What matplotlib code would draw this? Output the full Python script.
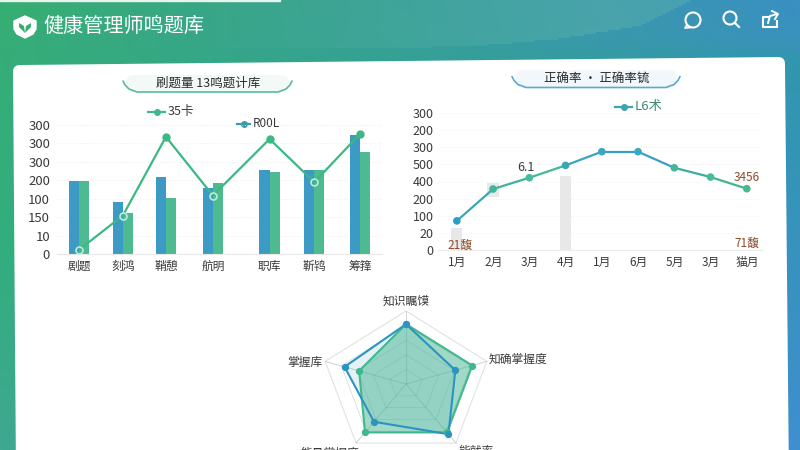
# -*- coding: utf-8 -*-
import numpy as np
import matplotlib
matplotlib.use("Agg")
import matplotlib.pyplot as plt
from matplotlib.colors import to_rgb
from matplotlib.patches import Circle, FancyBboxPatch, Polygon

plt.rcParams["font.family"] = ["Noto Sans CJK SC", "DejaVu Sans"]

# left chart
bar_cats = ["剧题", "刻鸿", "鞘憩", "航明", "职库", "靳鸨", "筹箨"]
bar_ticks = ["0", "10", "150", "100", "200", "300", "300", "300"]
blue_bars = [199, 142, 208, 180, 228, 229, 323]
green_bars = [199, 113, 152, 192, 223, 229, 277]
bar_line = [12, 105, 318, 159, 312, 195, 326]

# right chart
months = ["1月", "2月", "3月", "4月", "1月", "6月", "5月", "3月", "猫月"]
rate_ticks = ["0", "20", "100", "200", "400", "500", "300", "200", "300"]
rate_line = [85, 178, 211, 247, 287, 287, 240, 213, 179]
gray_low = [0, 156, 0]
gray_high = [63, 197, 215]
gray_month = [0, 1, 3]

# radar
radar_axes = ["知识瞩馍", "知确掌握度", "能就率", "能量掌握度", "掌握库"]
radar_green = [82, 82, 82, 82, 58]
radar_blue = [82, 61, 85, 64, 76]

W, H = 800, 450
GREEN = "#3bb884"
TEXT = "#3a3a3a"

fig = plt.figure(figsize=(8, 4.5), dpi=100)
bg = fig.add_axes([0, 0, 1, 1])
bg.set_xlim(0, W)
bg.set_ylim(H, 0)
bg.axis("off")


def box(x0, y0, x1, y1):
    return [x0 / W, 1 - y1 / H, (x1 - x0) / W, (y1 - y0) / H]


# page background, left and right edge colours blended across
rows = np.linspace(0, H, 225)
cols = np.linspace(0, W, 400)
left_edge = np.array([np.interp(rows, [0, 50, 250, 450], c) for c in zip(
    to_rgb("#37ae70"), to_rgb("#36ad78"), to_rgb("#32ae7e"), to_rgb("#3fa890"))]).T
right_edge = np.array([np.interp(rows, [0, 40, 60, 450], c) for c in zip(
    to_rgb("#3a90c2"), to_rgb("#3a92bc"), to_rgb("#3296ae"), to_rgb("#3e8fd0"))]).T
t = (cols / W)[None, :, None]
grad = left_edge[:, None, :] * (1 - t) + right_edge[:, None, :] * t

# header wave, fades in towards the right
curve = np.interp(cols, [0, 400, 480, 560, 640, 690, 691], [47, 47, 45, 38, 25, 0, -1])
mask = (rows[:, None] < curve[None, :]) * np.clip((cols[None, :] - 200) / 400, 0, 1) * 0.28
grad = grad * (1 - mask[..., None]) + np.array(to_rgb("#6fc2a5")) * mask[..., None]
bg.imshow(grad, extent=[0, W, H, 0], aspect="auto", zorder=0)
bg.fill_between([0, 280], 0, 1, color="#e8f5ef", zorder=1)

# card, it leans a little in the reference
card = [(19, 71), (779, 63), (783, 480), (22, 480)]
bg.add_patch(Polygon(card, closed=True, fc="white", ec="white", lw=8.6, joinstyle="round", zorder=2))

# shield logo
sx = [14, 25, 36, 36, 33, 25, 17, 14]
sy = [21, 16, 21, 29, 34, 38, 34, 29]
bg.add_patch(Polygon(np.c_[sx, sy], closed=True, fc="white", ec="white", lw=1, joinstyle="round", zorder=3))
bg.add_patch(Polygon([(25, 33), (19, 27), (19, 23), (24, 26)], closed=True, fc="#37ad72", zorder=4))
bg.add_patch(Polygon([(25, 33), (31, 27), (31, 23), (26, 26)], closed=True, fc="#37ad72", zorder=4))
bg.text(43, 26, "健康管理师鸣题库", color="white", fontsize=14.5, va="center", ha="left", zorder=3)

# header icons
bg.add_patch(Circle((693, 20), 7.5, fc="none", ec="white", lw=1.5, zorder=3))
bg.plot([687, 685, 690], [25, 28, 27.5], color="white", lw=1.3, zorder=3)
bg.add_patch(Circle((730, 18), 6.5, fc="none", ec="white", lw=1.5, zorder=3))
bg.plot([735, 739], [23, 27], color="white", lw=1.5, zorder=3)
bg.plot([769, 763, 763, 777, 777], [17, 17, 27, 27, 21], color="white", lw=1.5, zorder=3)
bg.plot([768, 770, 777], [23, 16, 14], color="white", lw=1.4, zorder=3)
bg.plot([772, 778, 775], [11, 14, 19], color="white", lw=1.4, zorder=3)


def pill(x0, x1, y0, y1, col, fill, label):
    bg.add_patch(FancyBboxPatch((x0 + 3, y0), x1 - x0 - 6, y1 - y0, boxstyle="round,pad=0,rounding_size=8",
                                fc=fill, ec="none", zorder=3))
    px = [x0, x0 + 2, x0 + 6, x0 + 14, x1 - 14, x1 - 6, x1 - 2, x1]
    py = [y1 - 11, y1 - 7, y1 - 3, y1, y1, y1 - 3, y1 - 7, y1 - 11]
    bg.plot(px, py, color=col, lw=1.2, zorder=4, solid_capstyle="round")
    bg.text((x0 + x1) / 2 + 1, y1 - 9, label, fontsize=9, color="#2c2c2c", ha="center", va="center", zorder=5)


pill(123, 292, 75, 92, "#58bd93", "#f2f9f6", "刷题量 13鸣题计库")
pill(512, 680, 70, 87.5, "#5aa9cf", "#f1f7fb", "正确率 · 正确率锍")


def legend(x0, x1, y, col, label, tcol, size):
    bg.plot([x0, x1], [y, y], color=col, lw=1.6, zorder=5)
    bg.plot([(x0 + x1) / 2], [y], "o", color=col, ms=4, zorder=5)
    bg.text(x1 + 3, y - 0.5, label, fontsize=size, color=tcol, va="center", ha="left", zorder=5)


legend(148, 165, 112, "#3fb98c", "35卡", TEXT, 9)
legend(237, 250, 124, "#3b9bad", "R00L", TEXT, 8.5)
legend(615, 632, 107, "#3ba5b5", "L6术", "#3c8a72", 9.5)

# left chart
ax = fig.add_axes(box(57, 125, 382, 254.3))
ax.patch.set_alpha(0)
slots = np.array([0, 1, 1.98, 3.05, 4.34, 5.36, 6.4])
bw = 0.23
ax.bar(slots - bw / 2, blue_bars, bw, color="#3d9ac4", zorder=2)
ax.bar(slots + bw / 2, green_bars, bw, color="#4dba92", zorder=2)
ax.plot(slots, bar_line, color=GREEN, lw=1.6, zorder=3, clip_on=False)
solid = [2, 4, 6]
hollow = [0, 1, 3, 5]
ax.plot(slots[solid], np.array(bar_line)[solid], "o", color=GREEN, ms=5, zorder=4, clip_on=False)
ax.plot(slots[hollow], np.array(bar_line)[hollow], "o", mfc="none", mec="#bfeadb", mew=1.2, ms=5, zorder=4)
ax.set_xlim(-0.5, 6.9)
ax.set_ylim(0, 350)
ax.set_yticks(np.arange(0, 351, 50))
ax.set_yticklabels(bar_ticks, fontsize=9.5, color=TEXT)
ax.set_xticks(slots)
ax.set_xticklabels(bar_cats, fontsize=8.5, color=TEXT)
ax.tick_params(axis="x", length=0, pad=4)
ax.tick_params(axis="y", length=0, pad=5)
ax.grid(axis="y", color="#e8e8e8", lw=0.6, ls=(0, (1, 2)), zorder=0)
for side in ["top", "left", "right"]:
    ax.spines[side].set_visible(False)
ax.spines["bottom"].set_color("#e8e8e8")

# right chart
ax2 = fig.add_axes(box(438, 113, 762, 250))
ax2.patch.set_alpha(0)
mx = np.arange(len(months))
ax2.bar(gray_month, np.array(gray_high) - np.array(gray_low), 0.31, bottom=gray_low, color="#e8e8e8", zorder=1)
seg_colors = ["#3aa7b8", "#3fb29f", "#45b79a", "#3aa5c0", "#3a9fc8", "#3a9fc8", "#3aae9f", "#40b592", "#45ba8a"]
for i in range(len(mx) - 1):
    ax2.plot(mx[i:i + 2], rate_line[i:i + 2], color=seg_colors[i], lw=1.6, zorder=2)
ax2.scatter(mx, rate_line, s=20, c=["#2f9cc0", "#41b59a", "#4abb9c", "#3aa5b8", "#3aa8c0", "#3aa8c0", "#45b59a", "#4abb9a",
                                    "#45ba8a"], zorder=3)
ax2.set_xlim(-0.52, 8.42)
ax2.set_ylim(0, 400)
ax2.set_yticks(np.arange(0, 401, 50))
ax2.set_yticklabels(rate_ticks, fontsize=9, color=TEXT)
ax2.set_xticks(mx + 0.02)
ax2.set_xticklabels(months, fontsize=8.5, color=TEXT)
ax2.tick_params(axis="x", length=0, pad=4)
ax2.tick_params(axis="y", length=0, pad=3)
ax2.grid(axis="y", color="#ececec", lw=0.6, ls=(0, (1, 2)), zorder=0)
for side in ["top", "left", "right"]:
    ax2.spines[side].set_visible(False)
ax2.spines["bottom"].set_color("#ececec")
ax2.text(1.9, rate_line[2] + 29, "6.1", fontsize=9, color=TEXT, ha="center", va="center")
ax2.text(8, rate_line[8] + 34, "3456", fontsize=8.5, color="#8a4a2a", ha="center", va="center")
ax2.text(8, 18, "71馥", fontsize=8.5, color="#8a4a2a", ha="center", va="center")
ax2.text(0.08, 12, "21馥", fontsize=8.5, color="#8a4a2a", ha="center", va="center")

# radar, drawn in value units so the rings follow the 0-100 scale
rad = fig.add_axes(box(406 - 85, 384 - 73, 406 + 85, 384 + 66))
rad.patch.set_alpha(0)
rad.set_xlim(-100, 100)
rad.set_ylim(-66 / 73 * 100, 100)
rad.axis("off")
ang = np.pi / 2 - np.arange(5) * 2 * np.pi / 5


def ring(vals):
    v = np.asarray(vals, dtype=float)
    return np.c_[v * np.cos(ang), v * np.sin(ang)]


rad.add_patch(Polygon(ring([100] * 5), closed=True, fc="none", ec="#e2e2e2", lw=0.8, zorder=1, clip_on=False))
for p in ring([100] * 5):
    rad.plot([0, p[0]], [0, p[1]], color="#e2e2e2", lw=0.7, zorder=1, clip_on=False)
rad.add_patch(Polygon(ring(radar_blue), closed=True, fc="#3d9ac4", alpha=0.13, ec="none", zorder=2, clip_on=False))
rad.add_patch(Polygon(ring(radar_green), closed=True, fc="#45b592", alpha=0.5, ec="none", zorder=2, clip_on=False))
for lvl in [20, 40, 60, 80]:
    rad.add_patch(Polygon(ring([lvl] * 5), closed=True, fc="none", ec="#6fae98", alpha=0.35, lw=0.6, zorder=3,
                          clip_on=False))
for p in ring([100] * 5):
    rad.plot([0, p[0]], [0, p[1]], color="#6fae98", alpha=0.28, lw=0.5, zorder=3, clip_on=False)
for vals, col in [(radar_green, "#3fb98c"), (radar_blue, "#2d93c0")]:
    pts = ring(vals)
    rad.plot(np.r_[pts[:, 0], pts[0, 0]], np.r_[pts[:, 1], pts[0, 1]], color=col, lw=1.5, zorder=5, clip_on=False)
    rad.plot(pts[:, 0], pts[:, 1], "o", color=col, ms=4.2, zorder=6, clip_on=False)

# radar labels sit on the page
bg.text(406, 301.5, radar_axes[0], fontsize=8.5, color=TEXT, ha="center", va="center", zorder=5)
bg.text(518, 359, radar_axes[1], fontsize=8.5, color=TEXT, ha="center", va="center", zorder=5)
bg.text(476, 451, radar_axes[2], fontsize=8.5, color=TEXT, ha="center", va="center", zorder=5)
bg.text(330, 453, radar_axes[3], fontsize=8.5, color=TEXT, ha="center", va="center", zorder=5)
bg.text(305, 362, radar_axes[4], fontsize=8.5, color=TEXT, ha="center", va="center", zorder=5)

fig.savefig("out.png", dpi=100)
